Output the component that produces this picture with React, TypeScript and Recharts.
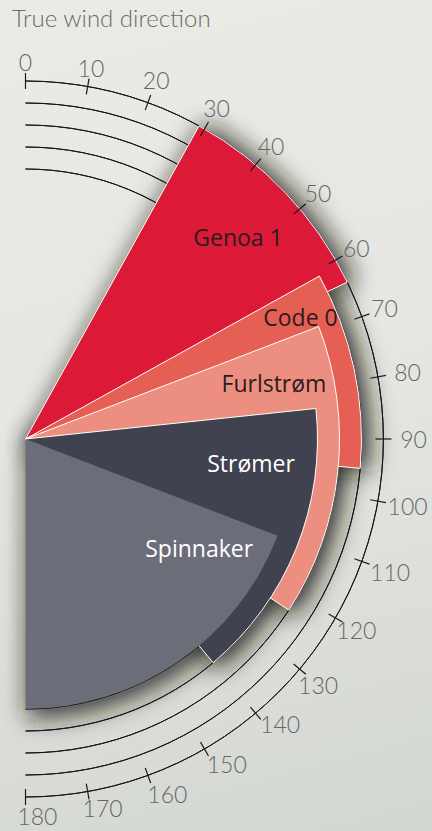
import { RadialBarChart, Pie, Cell, PolarAngleAxis, PolarRadiusAxis } from 'recharts'

// sails: angular range (degrees off true wind) and reach level (1 = inner ring, 5 = outer ring)
const sailNames = ['Genoa 1', 'Code 0', 'Furlstrøm', 'Strømer', 'Spinnaker']
const sailFrom = [29, 61, 69, 84, 111]
const sailTo = [64, 95, 123, 140, 180]
const sailLevel = [5, 4, 3, 2, 1]
const ringLevels = [1, 2, 3, 4, 5]
const windTicks = [0, 10, 20, 30, 40, 50, 60, 70, 80, 90, 100, 110, 120, 130, 140, 150, 160, 170, 180]

const W = 432
const H = 831
const CX = 25.5
const CY = 439
const R_MIN = 270
const R_MAX = 358
const levelRadius = (lv: number) => R_MIN + ((lv - 1) * (R_MAX - R_MIN)) / 4

const sailColors = ['#dc1a37', '#e55f55', '#ec8f80', '#40434f', '#6b6e79']
const sailStroke = ['#fff', '#fff', '#fff', '#fff', 'none']
const labelColors = ['#2b1c20', '#2b1c20', '#2b1c20', '#ffffff', '#ffffff']
// label placement: [angle from top, radius]
const labelAt: [number, number][] = [[46.5, 293], [66, 301], [77.3, 254.7], [96.1, 226.8], [122.1, 205]]
const FONT = '"Open Sans", sans-serif'
const THIN = 'Lato, "Open Sans", sans-serif'

const slices = (i: number) => [
  { name: 'before', v: sailFrom[i] },
  { name: sailNames[i], v: sailTo[i] - sailFrom[i] },
  { name: 'after', v: 180 - sailTo[i] },
]

const WindTick = (props: any) => {
  const { payload } = props
  const deg = payload.value as number
  const a = (payload.coordinate * Math.PI) / 180
  const pt = (r: number, ang: number) => [CX + r * Math.cos(ang), CY - r * Math.sin(ang)]
  const [x1, y1] = pt(R_MAX - 8, a)
  const [x2, y2] = pt(R_MAX + 8, a)
  const la = deg >= 140 ? a + (1.8 * Math.PI) / 180 : a
  let lr = 382
  if (deg <= 10) lr = 377
  else if (deg >= 75 && deg <= 115) lr = 388
  else if (deg >= 170) lr = 377
  const [lx, ly] = pt(lr, la)
  return (
    <g>
      <line x1={x1} y1={y1} x2={x2} y2={y2} stroke="#1a1a1a" strokeWidth={1.2} />
      <text x={lx} y={ly} textAnchor="middle" dominantBaseline="central" fill="#666"
        fontSize={23} fontWeight={300} fontFamily={THIN}>{deg}</text>
    </g>
  )
}

const sailLabel = (i: number) => (p: any) => {
  if (p.index !== 1) return null
  const [ang, r] = labelAt[i]
  const a = ((90 - ang) * Math.PI) / 180
  return (
    <text x={CX + r * Math.cos(a)} y={CY - r * Math.sin(a)} textAnchor="middle" dominantBaseline="central"
      fill={labelColors[i]} fontSize={23} fontFamily={FONT}>{sailNames[i]}</text>
  )
}

export default function App() {
  return (
    <div style={{ position: 'absolute', left: 0, top: 0, width: W, height: H, overflow: 'hidden',
      background: 'linear-gradient(165deg, #ebebe6 0%, #e6e7e2 45%, #d3d7d1 100%)' }}>
      <div style={{ position: 'absolute', left: 12, top: 3, fontFamily: THIN, fontWeight: 300, fontSize: 24,
        color: '#6a6a6a' }}>True wind direction</div>
      <RadialBarChart width={W} height={H} cx={CX} cy={CY} startAngle={90} endAngle={-90} innerRadius={0}
        outerRadius={R_MAX} margin={{ top: 0, right: 0, bottom: 0, left: 0 }} data={[]}>
        <defs>
          <filter id="sailShadow" x="-40%" y="-40%" width="180%" height="180%">
            <feGaussianBlur stdDeviation="12" />
          </filter>
        </defs>
        {sailNames.map((n, i) => (
          <Pie key={'sh' + n} data={slices(i)} dataKey="v" nameKey="name" cx={CX + 2} cy={CY + 3} startAngle={90} endAngle={-90}
            innerRadius={0} outerRadius={levelRadius(sailLevel[i]) + 7} isAnimationActive={false} legendType="none" stroke="none">
            {slices(i).map((s, j) => (
              <Cell key={j} fill={j === 1 ? '#1a1a14' : 'none'} fillOpacity={0.8} stroke="none"
                filter={j === 1 ? 'url(#sailShadow)' : undefined} />
            ))}
          </Pie>
        ))}
        {ringLevels.map(lv => (
          <Pie key={'ring' + lv} data={[{ name: 'ring', v: 180 }]} dataKey="v" cx={CX} cy={CY} startAngle={90} endAngle={-90}
            innerRadius={levelRadius(lv)} outerRadius={levelRadius(lv)} isAnimationActive={false} legendType="none"
            fill="none" stroke="#151515" strokeWidth={1} />
        ))}
        {sailNames.map((n, i) => (
          <Pie key={n} data={slices(i)} dataKey="v" nameKey="name" cx={CX} cy={CY} startAngle={90} endAngle={-90}
            innerRadius={0} outerRadius={levelRadius(sailLevel[i])} isAnimationActive={false} legendType="none"
            label={sailLabel(i)} labelLine={false}>
            {slices(i).map((s, j) => (
              <Cell key={j} fill={j === 1 ? sailColors[i] : 'none'} stroke={j === 1 ? sailStroke[i] : 'none'} strokeWidth={1} />
            ))}
          </Pie>
        ))}
        <PolarAngleAxis type="number" domain={[0, 180]} ticks={windTicks} axisLine={false} tickLine={false}
          tick={<WindTick />} />
        <PolarRadiusAxis radiusAxisId="up" type="number" domain={[0, 5]} angle={90} tick={false}
          axisLine={{ stroke: '#111', strokeWidth: 2 }} />
        <PolarRadiusAxis radiusAxisId="down" type="number" domain={[0, 5]} angle={-90} tick={false}
          axisLine={{ stroke: '#111', strokeWidth: 2 }} />
      </RadialBarChart>
    </div>
  )
}
